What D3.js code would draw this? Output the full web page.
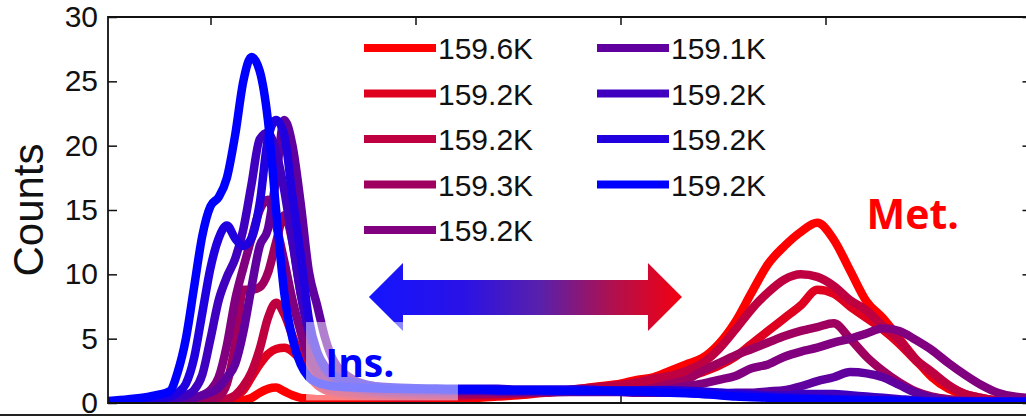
<!DOCTYPE html>
<html><head><meta charset="utf-8">
<script src="https://cdn.jsdelivr.net/npm/d3@7"></script>
<style>html,body{margin:0;padding:0;background:#fff;overflow:hidden}</style>
</head><body>
<svg id="chart" width="1026" height="418"></svg>
<script>
// ---------- data ----------
const xs = [0.5,0.6,0.7,0.8,
  0.84,0.88,0.92,0.96,1.00,1.04,1.08,1.12,1.16,1.20,1.24,1.28,1.32,1.36,1.40,1.44,1.48,1.52,1.56,1.60,
  1.7,1.8,1.9,2.0,2.1,2.2,2.3,2.4,2.5,2.6,2.7,2.8,2.9,3.0,
  3.08,3.16,3.24,3.32,3.40,3.48,3.56,3.64,3.72,3.80,3.88,3.96,4.04,4.12,4.20,4.28,4.36,4.44,4.52,4.60,4.68,4.76,4.84,4.92,5.0];

const s1 = [0.05,0.05,0.05,0.05,
  0.05,0.05,0.05,0.05,0.05,0.05,0.1,0.1,0.2,0.4,0.8,1.1,1.2,0.9,0.6,0.4,0.35,0.3,0.3,0.25,
  0.2,0.2,0.2,0.25,0.3,0.35,0.4,0.5,0.6,0.75,0.9,1.1,1.3,1.5,
  1.8,2.0,2.5,3.0,3.5,4.6,6.3,8.6,10.8,12.2,13.3,14.0,12.7,10.3,7.9,6.6,5.0,3.4,2.0,1.1,0.6,0.3,0.2,0.15,0.1];
const s2 = [0.05,0.05,0.05,0.05,
  0.05,0.05,0.1,0.1,0.1,0.15,0.2,0.5,1.0,2.0,3.0,3.8,4.2,4.3,4.0,3.3,2.1,1.4,1.0,0.8,
  0.6,0.5,0.45,0.45,0.5,0.5,0.55,0.6,0.7,0.8,0.9,1.0,1.2,1.4,
  1.4,1.6,1.8,2.0,2.4,2.9,3.6,4.6,5.6,6.6,7.6,8.8,8.5,7.5,6.6,5.7,4.6,3.3,2.2,1.3,0.7,0.4,0.2,0.15,0.1];
const s3 = [0.05,0.05,0.05,0.05,
  0.05,0.05,0.1,0.1,0.15,0.2,0.3,0.6,1.3,2.4,4.2,6.6,7.8,6.9,5.2,3.6,2.4,1.6,1.2,1.0,
  0.8,0.7,0.65,0.6,0.6,0.6,0.65,0.7,0.75,0.85,0.95,1.1,1.25,1.4,
  1.6,1.9,2.1,2.5,3.1,4.2,5.7,7.3,8.6,9.6,10.0,9.8,9.1,8.0,7.2,6.0,4.9,3.4,2.4,1.4,0.7,0.4,0.2,0.15,0.1];
const s4 = [0.05,0.05,0.05,0.05,
  0.05,0.1,0.15,0.2,0.3,0.5,1.5,4.5,8.8,8.8,9.0,10.1,12.5,14.6,12.5,8.5,5.5,3.3,2.2,1.6,
  1.1,0.9,0.8,0.75,0.7,0.7,0.7,0.7,0.75,0.8,0.85,0.9,0.95,1.0,
  1.0,1.2,1.5,1.8,2.5,3.1,3.7,4.2,4.7,5.2,5.6,5.9,6.2,5.0,3.6,2.5,1.6,0.9,0.5,0.3,0.2,0.15,0.1,0.1,0.1];
const s5 = [0.05,0.05,0.1,0.15,
  0.2,0.3,0.4,0.6,1.0,2.0,4.5,8.0,10.5,12.8,15.0,15.8,13.8,11.0,8.0,5.5,3.5,2.4,1.8,1.5,
  1.2,1.0,0.95,0.9,0.9,0.9,0.9,0.9,0.9,0.9,0.9,0.9,0.9,0.9,
  0.9,1.0,1.1,1.3,1.5,1.8,2.1,2.7,3.0,3.6,4.0,4.3,4.7,5.0,5.4,5.8,5.6,4.9,4.1,3.1,2.2,1.4,0.8,0.5,0.4];
const s6 = [0.05,0.1,0.1,0.2,
  0.2,0.3,0.4,0.6,0.8,1.2,2.0,3.0,5.5,9.0,12.2,13.5,17.5,22.0,20.0,15.5,10.2,7.6,5.0,3.3,
  1.8,1.3,1.1,1.0,1.0,0.95,0.95,0.9,0.9,0.9,0.85,0.85,0.85,0.85,
  0.8,0.8,0.8,0.8,0.7,0.7,0.8,0.8,0.9,1.0,1.3,1.7,2.0,2.4,2.3,2.0,1.4,0.8,0.4,0.2,0.15,0.1,0.1,0.1,0.1];
const s7 = [0.1,0.1,0.2,0.3,
  0.4,0.6,1.0,2.2,5.0,8.0,9.8,11.2,13.5,17.0,20.5,21.0,19.5,16.5,12.5,8.5,5.5,3.8,2.6,2.0,
  1.4,1.2,1.1,1.05,1.0,1.0,1.0,1.0,0.95,0.95,0.95,0.9,0.9,0.9,
  0.9,0.9,0.9,0.85,0.8,0.8,0.75,0.7,0.6,0.6,0.7,0.7,0.7,0.6,0.5,0.4,0.3,0.2,0.15,0.1,0.1,0.1,0.1,0.1,0.1];
const s8 = [0.1,0.2,0.3,0.5,
  0.8,1.5,3.5,7.0,10.5,12.8,13.8,12.8,12.2,12.8,15.5,20.5,22.0,20.8,16.0,11.5,6.5,4.0,2.8,2.2,
  1.6,1.3,1.2,1.15,1.1,1.1,1.1,1.1,1.05,1.05,1.05,1.05,1.0,1.0,
  1.0,1.0,1.0,0.95,0.9,0.8,0.7,0.6,0.5,0.45,0.4,0.35,0.3,0.3,0.25,0.2,0.2,0.15,0.1,0.1,0.1,0.1,0.1,0.1,0.1];
const s9 = [0.15,0.3,0.5,0.9,
  2.4,5.0,9.0,13.0,15.3,16.0,17.5,20.8,25.0,26.9,25.8,22.0,15.0,8.5,5.0,3.0,2.0,1.6,1.4,1.3,
  1.2,1.15,1.1,1.1,1.1,1.05,1.05,1.0,1.0,1.0,0.95,0.95,0.95,0.9,
  0.9,0.85,0.8,0.75,0.7,0.6,0.5,0.45,0.4,0.35,0.3,0.3,0.25,0.2,0.2,0.2,0.15,0.15,0.1,0.1,0.1,0.1,0.1,0.1,0.1];

const seriesValues = [s1, s2, s3, s4, s5, s6, s7, s8, s9];
const seriesLabels = ["159.6K","159.2K","159.2K","159.3K","159.2K","159.1K","159.2K","159.2K","159.2K"];
const yTicks = [0, 5, 10, 15, 20, 25, 30];
const xTicks = [1, 2, 3, 4];

// annotations (data units)
const arrowX = [1.773, 1.939, 3.134, 3.300];   // left tip, left head base, right head base, right tip
const arrowY = [8.24, 10.88, 5.59, 9.56, 6.84]; // center, head top, head bottom, shaft top, shaft bottom
const insBox = [1.466, 2.207, 0.2, 6.29];
const insLabel = {text: "Ins.", x: 1.56, y: 2.0};
const metLabel = {text: "Met.", x: 4.20, y: 13.5};

// ---------- drawing ----------
const svg = d3.select("#chart");
const x = d3.scaleLinear().domain([0.5, 5.0]).range([108, 1030.5]);
const y = d3.scaleLinear().domain([0, 30]).range([403, 17]);
const color = i => d3.interpolateRgb("#ff0000", "#0000ff")(i / 8);

// ticks
const axG = svg.append("g").attr("class", "axes");
function styleAxis(g, labels) {
  g.select(".domain").remove();
  g.selectAll(".tick line").attr("stroke", "#111").attr("stroke-width", 1.5);
  if (!labels) g.selectAll(".tick text").remove();
}
axG.append("g").attr("transform", "translate(108,0)")
  .call(d3.axisLeft(y).tickValues(yTicks).tickSize(-9).tickPadding(10))
  .call(g => styleAxis(g, true))
  .call(g => g.selectAll(".tick text").attr("font-family", "Liberation Sans, Arial, sans-serif")
    .attr("font-size", 30).attr("fill", "#111"));
axG.append("g").attr("transform", "translate(1030.5,0)")
  .call(d3.axisRight(y).tickValues(yTicks).tickSize(-8)).call(g => styleAxis(g, false));
axG.append("g").attr("transform", "translate(0,17)")
  .call(d3.axisTop(x).tickValues(xTicks).tickSize(-8)).call(g => styleAxis(g, false));
axG.append("g").attr("transform", "translate(0,403)")
  .call(d3.axisBottom(x).tickValues(xTicks).tickSize(-8)).call(g => styleAxis(g, false));

// curves
const line = d3.line()
  .x((d, i) => x(xs[i]))
  .y(d => y(d))
  .curve(d3.curveMonotoneX);

svg.append("clipPath").attr("id", "pc").append("rect")
  .attr("x", 108).attr("y", 17).attr("width", 922.5).attr("height", 387);

svg.append("g").attr("clip-path", "url(#pc)")
  .selectAll("path.series").data(seriesValues).join("path")
  .attr("class", "series")
  .attr("d", d => line(d))
  .attr("fill", "none")
  .attr("stroke", (d, i) => color(i))
  .attr("stroke-width", 8.5)
  .attr("stroke-linejoin", "round")
  .attr("stroke-linecap", "round");

// frame
svg.append("path")
  .attr("d", `M${x(0.5)},${y(0)}V${y(30)}H${x(5.0)}V${y(0)}Z`)
  .attr("fill", "none").attr("stroke", "#111").attr("stroke-width", 1.8);

// legend
const leg = svg.append("g").attr("font-family", "Liberation Sans, Arial, sans-serif").attr("font-size", 30);
seriesLabels.forEach((lab, i) => {
  const col = i < 5 ? 0 : 1, row = i < 5 ? i : i - 5;
  const lx = col === 0 ? 364 : 597, ly = 48 + row * 45.5;
  leg.append("line").attr("x1", lx).attr("x2", lx + 72).attr("y1", ly).attr("y2", ly)
    .attr("stroke", color(i)).attr("stroke-width", 8);
  leg.append("text").attr("x", lx + 74).attr("y", ly + 11).attr("fill", "#111").text(lab);
});

// double arrow with gradient
const defs = svg.append("defs");
const grad = defs.append("linearGradient").attr("id", "arrowGrad")
  .attr("gradientUnits", "userSpaceOnUse")
  .attr("x1", x(arrowX[0])).attr("x2", x(arrowX[3])).attr("y1", 0).attr("y2", 0);
[[0, "#1414ff"], [0.3, "#2a12e6"], [0.55, "#5a20aa"], [0.78, "#b0104e"], [1, "#f40010"]]
  .forEach(([o, c]) => grad.append("stop").attr("offset", o).attr("stop-color", c));
const ap = [
  [arrowX[0], arrowY[0]], [arrowX[1], arrowY[1]], [arrowX[1], arrowY[3]], [arrowX[2], arrowY[3]],
  [arrowX[2], arrowY[1]], [arrowX[3], arrowY[0]], [arrowX[2], arrowY[2]], [arrowX[2], arrowY[4]],
  [arrowX[1], arrowY[4]], [arrowX[1], arrowY[2]]
];
svg.append("path")
  .attr("d", "M" + ap.map(p => `${x(p[0])},${y(p[1])}`).join("L") + "Z")
  .attr("fill", "url(#arrowGrad)");

// Ins. box and label
svg.append("rect")
  .attr("x", x(insBox[0])).attr("y", y(insBox[3]))
  .attr("width", x(insBox[1]) - x(insBox[0])).attr("height", y(insBox[2]) - y(insBox[3]))
  .attr("fill", "#ffffff").attr("fill-opacity", 0.5);
svg.append("text").attr("x", x(insLabel.x)).attr("y", y(insLabel.y))
  .attr("font-family", "Open Sans, sans-serif").attr("font-weight", 700).attr("font-size", 39)
  .attr("fill", "#0000ff").text(insLabel.text);
svg.append("text").attr("x", x(metLabel.x)).attr("y", y(metLabel.y))
  .attr("font-family", "Open Sans, sans-serif").attr("font-weight", 700).attr("font-size", 41)
  .attr("fill", "#ff0000").text(metLabel.text);

// y label
svg.append("text").attr("transform", "translate(43,210) rotate(-90)")
  .attr("text-anchor", "middle")
  .attr("font-family", "Liberation Sans, Arial, sans-serif").attr("font-size", 42)
  .attr("fill", "#111").text("Counts");

// separator line at the bottom
svg.append("line").attr("x1", 0).attr("x2", 1026).attr("y1", 415).attr("y2", 415)
  .attr("stroke", "#222").attr("stroke-width", 2);
</script>
</body></html>
